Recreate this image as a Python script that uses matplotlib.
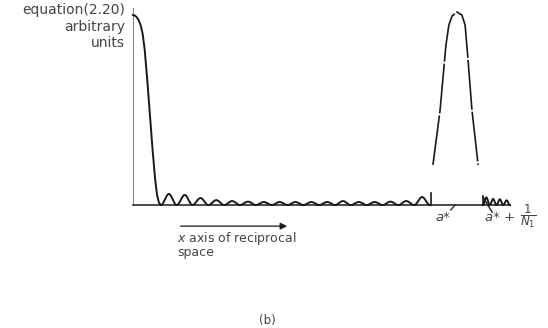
import numpy as np
import matplotlib
matplotlib.use('Agg')
import matplotlib.pyplot as plt

# x in reciprocal-space units (origin = 0, a* = 1), y in arbitrary units (peak = 1)

# zero-order peak
main_x = [0.0, 0.006, 0.012, 0.018, 0.024, 0.030, 0.036, 0.044, 0.052, 0.060, 0.068, 0.074, 0.080, 0.086]
main_y = [1.0, 0.997, 0.988, 0.972, 0.945, 0.90, 0.82, 0.66, 0.48, 0.30, 0.14, 0.055, 0.012, 0.0]

# subsidiary maxima between the two peaks
ripple_start, ripple_end = 0.086, 0.914
ripple_h = [0.058, 0.053, 0.037, 0.026, 0.021, 0.018, 0.016, 0.016, 0.016,
            0.016, 0.016, 0.021, 0.016, 0.016, 0.018, 0.021, 0.042]

# first-order peak at a*
peak_x = [0.923, 0.945, 0.963, 0.972, 0.982, 0.997, 1.012, 1.022, 1.031, 1.043, 1.062]
peak_y = [0.211, 0.50, 0.842, 0.947, 0.995, 1.016, 1.0, 0.947, 0.763, 0.50, 0.211]

# ripples beyond a*
right_start, right_end = 1.077, 1.160
right_h = [0.040, 0.032, 0.030, 0.025]

LINE = '#1a1a1a'
TEXT = '#444444'


def humps(x0, x1, heights, n=30):
    edges = np.linspace(x0, x1, len(heights) + 1)
    xs, ys = [], []
    for a, b, h in zip(edges[:-1], edges[1:], heights):
        t = np.linspace(0, 1, n)
        xs.append(a + (b - a) * t)
        ys.append(h * np.sin(np.pi * t) ** 2)
    return np.concatenate(xs), np.concatenate(ys)


fig = plt.figure(figsize=(5.48, 3.28), dpi=100)
ax = fig.add_axes([0, 0, 1, 1])
ax.set_xlim(-0.409, 1.277)
ax.set_ylim(-0.647, 1.079)
ax.axis('off')

# axes
ax.plot([0, 0], [0, 1.037], color='#888888', lw=0.8)
ax.plot([0, 1.16], [0, 0], color=LINE, lw=1.1)

# zero-order peak + ripples
rx, ry = humps(ripple_start, ripple_end, ripple_h)
ax.plot(np.r_[main_x, rx], np.r_[main_y, ry], color=LINE, lw=1.4)
ax.plot([ripple_end + 0.003] * 2, [0, 0.063], color=LINE, lw=1.2)

# first-order peak, drawn broken
ax.plot(peak_x, peak_y, color=LINE, lw=1.2, ls=(0, (30, 1.2)))

# right-hand ripples and flank
qx, qy = humps(right_start, right_end, right_h)
ax.plot(qx, qy, color=LINE, lw=1.4)
ax.plot([right_start, right_start], [0, 0.045], color=LINE, lw=1.2)
ax.plot([1.077, 1.105], [0.042, -0.037], color=LINE, lw=1.0)
ax.plot([0.978, 0.991], [-0.026, 0.0], color=LINE, lw=0.9)

font = dict(family='DejaVu Sans', color=TEXT)
ax.text(-0.025, 1.026, 'equation(2.20)', ha='right', va='center', fontsize=10, **font)
ax.text(-0.025, 0.937, 'arbitrary', ha='right', va='center', fontsize=10, **font)
ax.text(-0.025, 0.853, 'units', ha='right', va='center', fontsize=10, **font)

ax.annotate('', xy=(0.483, -0.111), xytext=(0.138, -0.111),
            arrowprops=dict(arrowstyle='-|>', color=LINE, lw=0.9,
                            mutation_scale=10))
ax.text(0.135, -0.174, r'$x$ axis of reciprocal', ha='left', va='center',
        fontsize=9, **font)
ax.text(0.135, -0.248, 'space', ha='left', va='center', fontsize=9, **font)

ax.text(0.954, -0.068, 'a*', ha='center', va='center', fontsize=9.5,
        style='italic', **font)
ax.text(1.082, -0.068, 'a* +', ha='left', va='center', fontsize=9.5,
        style='italic', **font)
ax.text(1.19, -0.06, r'$\dfrac{1}{N_1}$', ha='left', va='center',
        fontsize=8.5, color=TEXT)

ax.text(0.415, -0.605, '(b)', ha='center', va='center', fontsize=8.5, **font)

fig.savefig('out.png', dpi=100)
